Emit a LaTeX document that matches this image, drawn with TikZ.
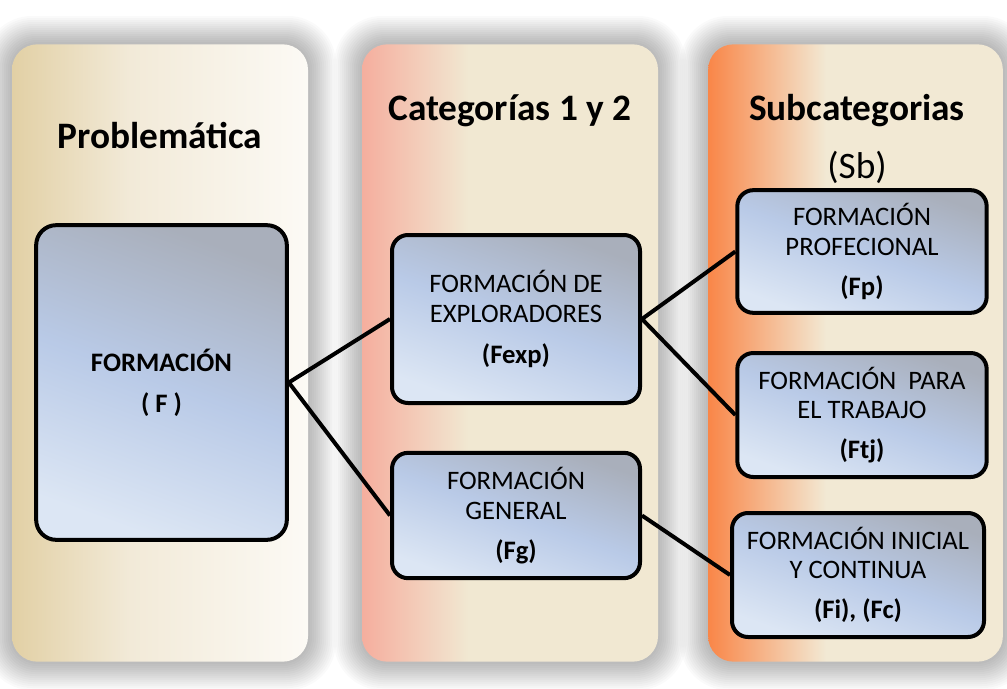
\documentclass[tikz,border=0pt]{standalone}
\usepackage{fontspec}
\setmainfont{Carlito}

\definecolor{tanleft}{HTML}{E2D0A5}
\definecolor{tanmid}{HTML}{F2EAD8}
\definecolor{tanright}{HTML}{FCFAF5}
\definecolor{salmon}{HTML}{F5AE9E}
\definecolor{creamB}{HTML}{F1E8D2}
\definecolor{orangeC}{HTML}{F98648}
\definecolor{creamC}{HTML}{F2E9D4}
\definecolor{boxtop}{HTML}{A9AFBB}
\definecolor{boxmid}{HTML}{B9CAE7}
\definecolor{boxlow}{HTML}{DCE6F4}

\pgfdeclarehorizontalshading{probfill}{100bp}{color(0bp)=(tanleft); color(25bp)=(tanleft); color(45bp)=(tanmid); color(75bp)=(tanright); color(100bp)=(tanright)}
\pgfdeclarehorizontalshading{catfill}{100bp}{color(0bp)=(salmon); color(25bp)=(salmon); color(43bp)=(creamB); color(100bp)=(creamB)}
\pgfdeclarehorizontalshading{subfill}{100bp}{color(0bp)=(orangeC); color(25bp)=(orangeC); color(45bp)=(creamC); color(100bp)=(creamC)}
\pgfdeclareverticalshading{boxfill}{100bp}{color(0bp)=(boxlow); color(25bp)=(boxlow); color(50bp)=(boxmid); color(75bp)=(boxtop); color(100bp)=(boxtop)}

\tikzset{
    panel/.style={rounded corners=19pt, minimum width=222pt, minimum height=463pt},
    glow/.style={fill=black, fill opacity=0.02},
    heading/.style={anchor=base, font=\fontsize{28}{32}\selectfont},
    catbox/.style={draw, line width=3pt, rounded corners=12pt, shading=boxfill, shading angle=-20,
        align=center, font=\fontsize{20}{22}\selectfont, minimum width=186pt, minimum height=93pt},
    link/.style={line width=3pt}
}

\begin{document}
\begin{tikzpicture}[x=0.75pt, y=-0.75pt]

                \fill [white] (0, 0) rectangle (1007, 689);
                \useasboundingbox (0, 0) rectangle (1007, 689);

                \foreach \x/\w in {160/148, 510/148, 855.5/147.5}
                    \foreach \k in {1, ..., 14}
                        \fill [glow, rounded corners={19pt+\k*1.2pt}]
                            (\x-\w-\k*2, 44-\k*2) rectangle (\x+\w+\k*2, 662+\k*2);

                \foreach \n/\x/\w/\s in {col1/160/222/probfill, col2/510/222/catfill, col3/855.5/221/subfill}
                    \node [panel, minimum width=\w pt, shading=\s] (\n) at (\x, 353) {};

                \node [heading] (t1) at (160, 148) {\bfseries Problemática};
                \node [heading] (t2) at (510, 120) {\bfseries Categorías 1 y 2};
                \node [heading] (t3) at (857, 120) {\bfseries Subcategorias};
                \node [heading] (sb) at (857, 178) {(Sb)};

                \node [catbox, rounded corners=15pt, minimum width=188pt, minimum height=236pt] (f) at (161.5, 382.5)
                    {\textbf{FORMACIÓN}\\[9pt]\textbf{( F )}};
                \node [catbox, minimum height=126pt] (fexp) at (516, 319)
                    {FORMACIÓN DE\\EXPLORADORES\\[9pt]\textbf{(Fexp)}};
                \node [catbox, minimum height=94pt] (fg) at (516, 515.5)
                    {FORMACIÓN\\GENERAL\\[8pt]\textbf{(Fg)}};
                \node [catbox, minimum width=187pt, minimum height=92pt] (fp) at (862, 251.5)
                    {FORMACIÓN\\PROFECIONAL\\[8pt]\textbf{(Fp)}};
                \node [catbox, minimum width=187pt] (ftj) at (862, 415)
                    {FORMACIÓN\ \ PARA\\EL TRABAJO\\[8pt]\textbf{(Ftj)}};
                \node [catbox, minimum width=189pt] (fic) at (858, 575)
                    {FORMACIÓN INICIAL\\Y CONTINUA\\[8pt]\textbf{(Fi), (Fc)}};

                \foreach \a/\b in {f/fexp, f/fg, fexp/fp, fexp/ftj, fg/fic}
                    \draw [link] (\a.east) -- (\b.west);
            \end{tikzpicture}
\end{document}
